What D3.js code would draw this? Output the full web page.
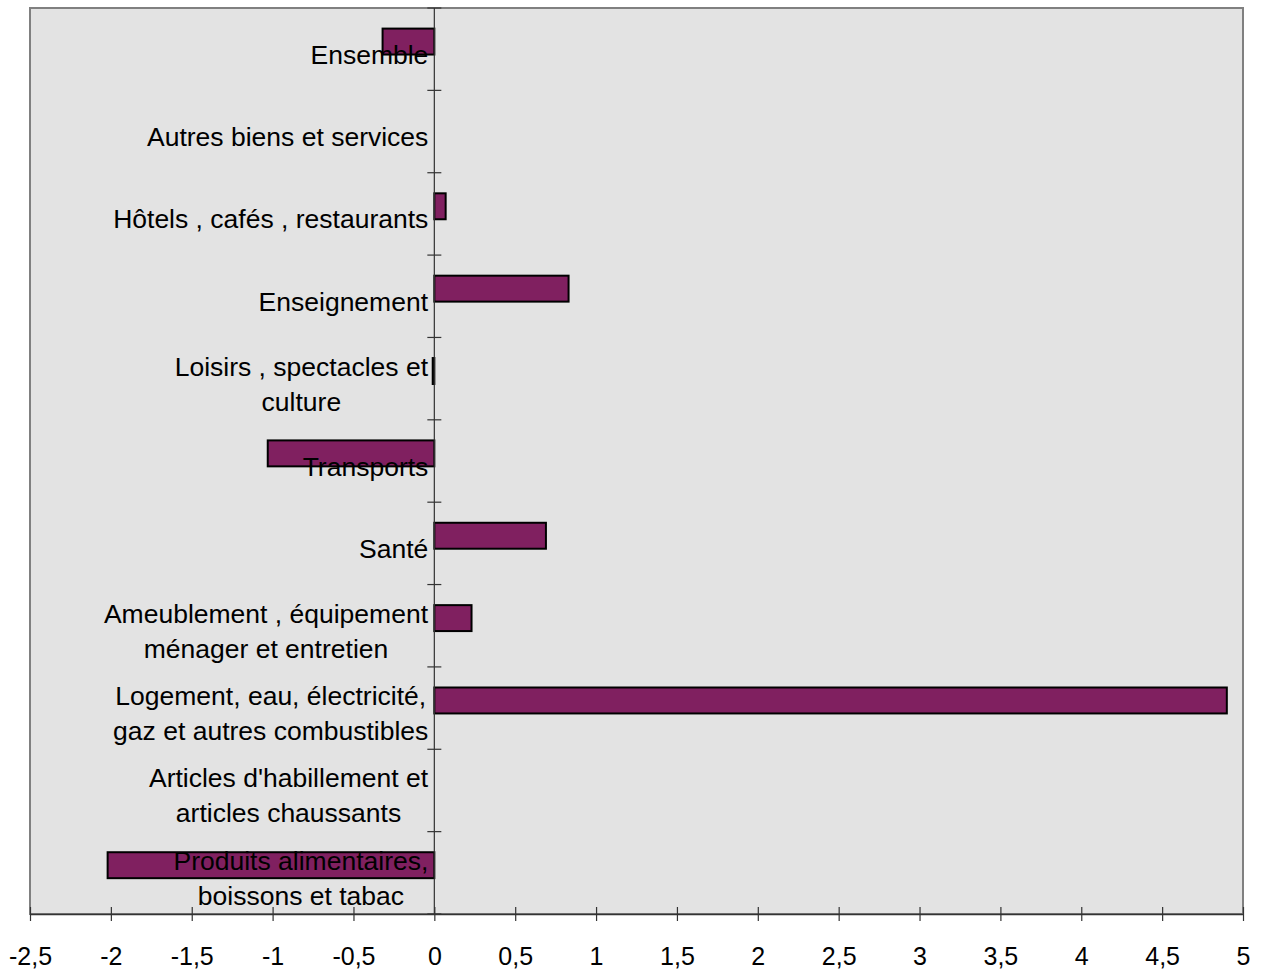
<!DOCTYPE html>
<html>
<head>
<meta charset="utf-8">
<script src="https://cdn.jsdelivr.net/npm/d3@7"></script>
<style>
  body { margin: 0; background: #fff; }
  svg text { font-family: "Liberation Sans", Arial, sans-serif; fill: #000; }
</style>
</head>
<body>
<div id="chart"></div>
<script>
// categories, top to bottom as they appear
var categories = [
  "Ensemble",
  "Autres biens et services",
  "Hôtels , cafés , restaurants",
  "Enseignement",
  "Loisirs , spectacles et\nculture",
  "Transports",
  "Santé",
  "Ameublement , équipement\nménager et entretien",
  "Logement, eau, électricité,\ngaz et autres combustibles",
  "Articles d'habillement et\narticles chaussants",
  "Produits alimentaires,\nboissons et tabac"
];
var values = [-0.32, 0, 0.07, 0.83, -0.01, -1.03, 0.69, 0.23, 4.9, 0, -2.02];
var xTicks = [-2.5, -2, -1.5, -1, -0.5, 0, 0.5, 1, 1.5, 2, 2.5, 3, 3.5, 4, 4.5, 5];

var width = 1262, height = 971;
var plot = { left: 30, right: 1243, top: 8, bottom: 914 };

var svg = d3.select("#chart").append("svg")
  .attr("width", width)
  .attr("height", height);

var xScale = d3.scaleLinear()
  .domain([-2.5, 5])
  .range([plot.left, plot.right]);

var yScale = d3.scaleBand()
  .domain(categories)
  .range([plot.top, plot.bottom]);

// plot area background
svg.append("rect")
  .attr("x", plot.left)
  .attr("y", plot.top)
  .attr("width", plot.right - plot.left)
  .attr("height", plot.bottom - plot.top)
  .attr("fill", "#e3e3e3")
  .attr("stroke", "#808080")
  .attr("stroke-width", 2);

// bars (sit a bit above the band centre, like the original)
var step = yScale.step();
svg.selectAll("rect.bar")
  .data(values)
  .enter()
  .append("rect")
  .attr("class", "bar")
  .attr("x", d => xScale(Math.min(0, d)))
  .attr("y", (d, i) => yScale(categories[i]) + step * 0.25)
  .attr("width", d => Math.abs(xScale(d) - xScale(0)))
  .attr("height", step * 0.315)
  .attr("fill", "#802060")
  .attr("stroke", "#000")
  .attr("stroke-width", 2);

// vertical axis at zero with crossing ticks
var x0 = xScale(0);
svg.append("line")
  .attr("x1", x0).attr("x2", x0)
  .attr("y1", plot.top).attr("y2", plot.bottom)
  .attr("stroke", "#333").attr("stroke-width", 1.2);
var bounds = categories.map(c => yScale(c)).concat([plot.bottom]);
svg.selectAll("line.ytick")
  .data(bounds)
  .enter()
  .append("line")
  .attr("class", "ytick")
  .attr("x1", x0 - 7).attr("x2", x0 + 7)
  .attr("y1", d => d).attr("y2", d => d)
  .attr("stroke", "#333").attr("stroke-width", 1.2);

// x axis
var xAxis = d3.axisBottom(xScale)
  .tickValues(xTicks)
  .tickSizeInner(0)
  .tickSizeOuter(0)
  .tickFormat(d => String(d).replace(".", ","));
var gx = svg.append("g")
  .attr("transform", `translate(0, ${plot.bottom})`)
  .call(xAxis);
gx.select(".domain").attr("stroke", "#333").attr("stroke-width", 1.5);
gx.selectAll(".tick text")
  .attr("y", 51)
  .attr("dy", 0)
  .attr("font-size", "25px")
  .attr("font-family", "'Liberation Sans', Arial, sans-serif");
gx.selectAll(".tick").append("line")
  .attr("y1", -7).attr("y2", 7)
  .attr("stroke", "#333").attr("stroke-width", 1.2);

// category labels: centred text block, right edge near the zero line
var lineH = 35;
var labels = svg.selectAll("g.lab")
  .data(categories)
  .enter()
  .append("g")
  .attr("class", "lab");
labels.each(function(c) {
  var g = d3.select(this);
  var lines = c.split("\n");
  var t = g.append("text")
    .attr("font-size", "26.5px")
    .attr("text-anchor", "middle");
  var cy = yScale(c) + step / 2 + 14.5;
  lines.forEach(function(l, k) {
    t.append("tspan")
      .attr("x", 0)
      .attr("y", cy + (k - (lines.length - 1) / 2) * lineH)
      .text(l);
  });
  var w = t.node().getBBox().width;
  t.attr("transform", `translate(${x0 - 6 - w / 2}, 0)`);
});
</script>
</body>
</html>
